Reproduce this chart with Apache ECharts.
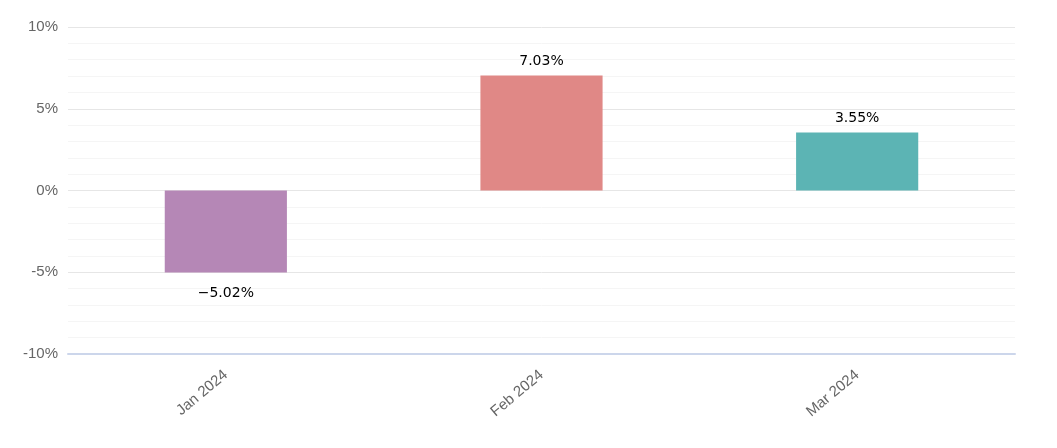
<!DOCTYPE html>
<html><head><meta charset="utf-8">
<script src="https://cdn.jsdelivr.net/npm/echarts@6/dist/echarts.min.js"></script>
<style>html,body{margin:0;padding:0;background:#fff}#c{width:1057px;height:448px}</style>
</head><body><div id="c"></div>
<script>
const categories = ['Jan 2024', 'Feb 2024', 'Mar 2024'];
const values = [-5.02, 7.03, 3.55];
const barColors = ['#b587b6', '#e08886', '#5cb4b4'];
const yTicks = [-10, -5, 0, 5, 10];

const chart = echarts.init(document.getElementById('c'), null, {renderer: 'canvas'});
chart.setOption({
  animation: false,
  grid: {left: 68, right: 42, top: 27, bottom: 94, containLabel: false},
  xAxis: {
    type: 'category',
    data: categories,
    position: 'bottom',
    axisLine: {onZero: false, lineStyle: {color: '#ccd6eb', width: 2}},
    axisTick: {show: false},
    axisLabel: {rotate: 40, color: '#666666', fontSize: 15, fontFamily: 'Liberation Sans', margin: 19}
  },
  yAxis: {
    type: 'value',
    min: yTicks[0], max: yTicks[yTicks.length - 1], interval: 5,
    axisLine: {show: false},
    axisTick: {show: false},
    axisLabel: {color: '#666666', fontSize: 15, fontFamily: 'Liberation Sans', margin: 10,
      padding: [7, 0, 0, 0], formatter: v => v + '%'},
    splitLine: {lineStyle: {color: '#e6e6e6', width: 1}},
    minorTick: {show: false, splitNumber: 5},
    minorSplitLine: {show: true, lineStyle: {color: '#f5f5f5', width: 1}}
  },
  series: [{
    type: 'bar',
    barWidth: '38.7%',
    data: values.map((v, i) => ({
      value: v,
      itemStyle: {color: barColors[i]},
      label: {position: v < 0 ? 'bottom' : 'top', distance: v < 0 ? 14 : 7}
    })),
    label: {
      show: true,
      color: '#000000',
      fontSize: 14,
      fontFamily: 'DejaVu Sans',
      formatter: p => (p.value < 0 ? '\u2212' + Math.abs(p.value).toFixed(2) : p.value.toFixed(2)) + '%'
    }
  }]
});
</script></body></html>
